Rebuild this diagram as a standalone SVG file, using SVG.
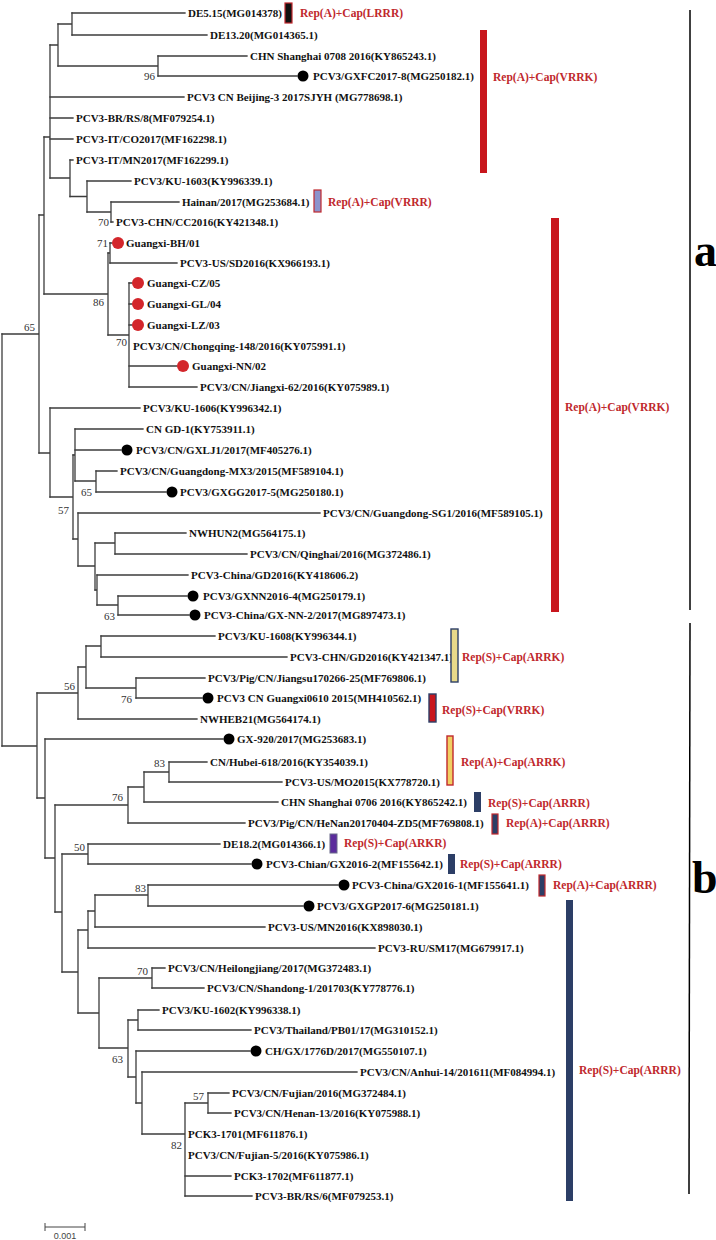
<svg xmlns="http://www.w3.org/2000/svg" width="716" height="1240" viewBox="0 0 716 1240">
<style>
.br{stroke:#3c3c3c;stroke-width:1.3;fill:none;stroke-linecap:square}
.lf{font-family:"Liberation Serif","Times New Roman",serif;font-weight:bold;font-size:11px;fill:#111}
.bs{font-family:"Liberation Serif","Times New Roman",serif;font-size:11px;fill:#333;text-anchor:end}
.rl{font-family:"Liberation Serif","Times New Roman",serif;font-weight:bold;font-size:11.5px;fill:#c0282d}
.bd{fill:#000}
.rd{fill:#d3262b}
.big{font-family:"Liberation Serif","Times New Roman",serif;font-weight:bold;font-size:46px;fill:#000}
.sc{font-family:"Liberation Sans",Arial,sans-serif;font-size:9px;fill:#444;text-anchor:middle}
</style>
<rect width="716" height="1240" fill="#fff"/>
<g id="connectors" class="br">
<path d="M58 24H72M72 13V35"/>
<path d="M58 66H158M158 56V76"/>
<path d="M50 45H58M58 24V66"/>
<path d="M44 137H50M50 45V178"/>
<path d="M50 178H70M70 160V196.5"/>
<path d="M70 196.5H87M87 181V212"/>
<path d="M87 212H111M111 202V222"/>
<path d="M39 215H44M44 137V294"/>
<path d="M108 253H110M110 243V263"/>
<path d="M44 294H108M108 253V335"/>
<path d="M108 335H129M129 283V387"/>
<path d="M2 334H39M39 215V453"/>
<path d="M39 453H50M50 408V497"/>
<path d="M73 455H75M75 429V481"/>
<path d="M75 481H96M96 471V492"/>
<path d="M50 497H73M73 455V539"/>
<path d="M73 539H78M78 513V566"/>
<path d="M78 566H95M95 543V590"/>
<path d="M95 543H115M115 533V554"/>
<path d="M95 590H97M97 575V605"/>
<path d="M97 605H118M118 596V615"/>
<path d="M2 334V746"/>
<path d="M2 746H37M37 693V798"/>
<path d="M37 693H78M78 667V719"/>
<path d="M78 667H86M86 646V688"/>
<path d="M86 646H101M101 636V657"/>
<path d="M86 688H136M136 678V698"/>
<path d="M37 798H45M45 739V858"/>
<path d="M45 858H55M55 805V912"/>
<path d="M55 805H128M128 787V823"/>
<path d="M128 787H144M144 772V802"/>
<path d="M144 772H169M169 762V782"/>
<path d="M55 912H62M62 854V972"/>
<path d="M62 854H88M88 844V864"/>
<path d="M62 972H78M78 930V1013"/>
<path d="M78 930H88M88 911V948"/>
<path d="M88 911H95M95 895V927"/>
<path d="M95 895H148M148 885V906"/>
<path d="M78 1013H99M99 978V1048"/>
<path d="M99 978H152M152 968V988"/>
<path d="M99 1048H128M128 1020V1077"/>
<path d="M128 1020H138M138 1010V1030"/>
<path d="M128 1077H136M136 1051V1103"/>
<path d="M136 1103H142M142 1072V1134"/>
<path d="M142 1134H185M185 1103V1196"/>
<path d="M185 1103H208M208 1093V1113"/>
<path d="M72 13H185M72 35H207M158 56H247M158 76H297M50 97H184M50 118H73M50 139H73M70 160H73M87 181H131M111 202H179M111 222H113"/>
<path d="M110 243H112M110 263H177M129 283H132M129 304H132M129 325H132M129 366H177M129 387H197"/>
<path d="M50 408H140M75 429H143M75 450H121M96 471H117M96 492H166M78 513H320M115 533H186M115 554H247M97 575H188M118 596H187M118 615H189"/>
<path d="M101 636H215M101 657H287M136 678H205M136 698H202M78 719H197M45 739H223"/>
<path d="M169 762H207M169 782H282M144 802H278M128 823H245M88 844H220M88 864H251M148 885H338M148 906H303M95 927H265M88 948H375"/>
<path d="M152 968H165M152 988H204M138 1010H159M138 1030H251M136 1051H250M142 1072H357M208 1093H229M208 1113H231M185 1176H231M185 1196H252"/>
</g>
<g id="bootstrap">
<text class="bs" x="155" y="80">96</text>
<text class="bs" x="109" y="226">70</text>
<text class="bs" x="108" y="247">71</text>
<text class="bs" x="104" y="306">86</text>
<text class="bs" x="35" y="331">65</text>
<text class="bs" x="127" y="346">70</text>
<text class="bs" x="92" y="496">65</text>
<text class="bs" x="69" y="514">57</text>
<text class="bs" x="115" y="620">63</text>
<text class="bs" x="75" y="690">56</text>
<text class="bs" x="132" y="703">76</text>
<text class="bs" x="165" y="767">83</text>
<text class="bs" x="123" y="801">76</text>
<text class="bs" x="85" y="851">50</text>
<text class="bs" x="146" y="892">83</text>
<text class="bs" x="148" y="975">70</text>
<text class="bs" x="123" y="1063">63</text>
<text class="bs" x="204" y="1100">57</text>
<text class="bs" x="182" y="1149">82</text>
</g>
<g id="leaf1"><text class="lf" x="188" y="17">DE5.15(MG014378)</text></g>
<g id="leaf2"><text class="lf" x="210" y="39">DE13.20(MG014365.1)</text></g>
<g id="leaf3"><text class="lf" x="250" y="60">CHN Shanghai 0708 2016(KY865243.1)</text></g>
<g id="leaf4"><circle class="bd" cx="303" cy="76" r="5.5"/><text class="lf" x="313" y="80">PCV3/GXFC2017-8(MG250182.1)</text></g>
<g id="leaf5"><text class="lf" x="187" y="101">PCV3 CN Beijing-3 2017SJYH (MG778698.1)</text></g>
<g id="leaf6"><text class="lf" x="76" y="122">PCV3-BR/RS/8(MF079254.1)</text></g>
<g id="leaf7"><text class="lf" x="76" y="143">PCV3-IT/CO2017(MF162298.1)</text></g>
<g id="leaf8"><text class="lf" x="76" y="164">PCV3-IT/MN2017(MF162299.1)</text></g>
<g id="leaf9"><text class="lf" x="134" y="185">PCV3/KU-1603(KY996339.1)</text></g>
<g id="leaf10"><text class="lf" x="182" y="206">Hainan/2017(MG253684.1)</text></g>
<g id="leaf11"><text class="lf" x="116" y="226">PCV3-CHN/CC2016(KY421348.1)</text></g>
<g id="leaf12"><circle class="rd" cx="118" cy="243" r="6"/><text class="lf" x="126" y="247">Guangxi-BH/01</text></g>
<g id="leaf13"><text class="lf" x="180" y="267">PCV3-US/SD2016(KX966193.1)</text></g>
<g id="leaf14"><circle class="rd" cx="138" cy="283" r="6"/><text class="lf" x="147" y="287">Guangxi-CZ/05</text></g>
<g id="leaf15"><circle class="rd" cx="138" cy="304" r="6"/><text class="lf" x="147" y="308">Guangxi-GL/04</text></g>
<g id="leaf16"><circle class="rd" cx="138" cy="325" r="6"/><text class="lf" x="147" y="329">Guangxi-LZ/03</text></g>
<g id="leaf17"><text class="lf" x="133" y="350">PCV3/CN/Chongqing-148/2016(KY075991.1)</text></g>
<g id="leaf18"><circle class="rd" cx="183" cy="366" r="6"/><text class="lf" x="192" y="370">Guangxi-NN/02</text></g>
<g id="leaf19"><text class="lf" x="200" y="391">PCV3/CN/Jiangxi-62/2016(KY075989.1)</text></g>
<g id="leaf20"><text class="lf" x="143" y="412">PCV3/KU-1606(KY996342.1)</text></g>
<g id="leaf21"><text class="lf" x="146" y="433">CN GD-1(KY753911.1)</text></g>
<g id="leaf22"><circle class="bd" cx="127" cy="450" r="5.5"/><text class="lf" x="136" y="454">PCV3/CN/GXLJ1/2017(MF405276.1)</text></g>
<g id="leaf23"><text class="lf" x="120" y="475">PCV3/CN/Guangdong-MX3/2015(MF589104.1)</text></g>
<g id="leaf24"><circle class="bd" cx="172" cy="492" r="5.5"/><text class="lf" x="180" y="496">PCV3/GXGG2017-5(MG250180.1)</text></g>
<g id="leaf25"><text class="lf" x="323" y="517">PCV3/CN/Guangdong-SG1/2016(MF589105.1)</text></g>
<g id="leaf26"><text class="lf" x="189" y="537">NWHUN2(MG564175.1)</text></g>
<g id="leaf27"><text class="lf" x="250" y="558">PCV3/CN/Qinghai/2016(MG372486.1)</text></g>
<g id="leaf28"><text class="lf" x="191" y="579">PCV3-China/GD2016(KY418606.2)</text></g>
<g id="leaf29"><circle class="bd" cx="193" cy="596" r="5.5"/><text class="lf" x="203" y="600">PCV3/GXNN2016-4(MG250179.1)</text></g>
<g id="leaf30"><circle class="bd" cx="195" cy="615" r="5.5"/><text class="lf" x="204" y="619">PCV3-China/GX-NN-2/2017(MG897473.1)</text></g>
<g id="leaf31"><text class="lf" x="218" y="640">PCV3/KU-1608(KY996344.1)</text></g>
<g id="leaf32"><text class="lf" x="290" y="661">PCV3-CHN/GD2016(KY421347.1)</text></g>
<g id="leaf33"><text class="lf" x="208" y="682">PCV3/Pig/CN/Jiangsu170266-25(MF769806.1)</text></g>
<g id="leaf34"><circle class="bd" cx="208" cy="698" r="5.5"/><text class="lf" x="217" y="702">PCV3 CN Guangxi0610 2015(MH410562.1)</text></g>
<g id="leaf35"><text class="lf" x="200" y="723">NWHEB21(MG564174.1)</text></g>
<g id="leaf36"><circle class="bd" cx="229" cy="739" r="5.5"/><text class="lf" x="237" y="743">GX-920/2017(MG253683.1)</text></g>
<g id="leaf37"><text class="lf" x="210" y="766">CN/Hubei-618/2016(KY354039.1)</text></g>
<g id="leaf38"><text class="lf" x="285" y="786">PCV3-US/MO2015(KX778720.1)</text></g>
<g id="leaf39"><text class="lf" x="281" y="806">CHN Shanghai 0706 2016(KY865242.1)</text></g>
<g id="leaf40"><text class="lf" x="248" y="827">PCV3/Pig/CN/HeNan20170404-ZD5(MF769808.1)</text></g>
<g id="leaf41"><text class="lf" x="223" y="848">DE18.2(MG014366.1)</text></g>
<g id="leaf42"><circle class="bd" cx="257" cy="864" r="5.5"/><text class="lf" x="266" y="868">PCV3-Chian/GX2016-2(MF155642.1)</text></g>
<g id="leaf43"><circle class="bd" cx="344" cy="885" r="5.5"/><text class="lf" x="352" y="889">PCV3-China/GX2016-1(MF155641.1)</text></g>
<g id="leaf44"><circle class="bd" cx="309" cy="906" r="5.5"/><text class="lf" x="317" y="910">PCV3/GXGP2017-6(MG250181.1)</text></g>
<g id="leaf45"><text class="lf" x="268" y="931">PCV3-US/MN2016(KX898030.1)</text></g>
<g id="leaf46"><text class="lf" x="378" y="952">PCV3-RU/SM17(MG679917.1)</text></g>
<g id="leaf47"><text class="lf" x="168" y="972">PCV3/CN/Heilongjiang/2017(MG372483.1)</text></g>
<g id="leaf48"><text class="lf" x="207" y="992">PCV3/CN/Shandong-1/201703(KY778776.1)</text></g>
<g id="leaf49"><text class="lf" x="162" y="1014">PCV3/KU-1602(KY996338.1)</text></g>
<g id="leaf50"><text class="lf" x="254" y="1034">PCV3/Thailand/PB01/17(MG310152.1)</text></g>
<g id="leaf51"><circle class="bd" cx="256" cy="1051" r="5.5"/><text class="lf" x="265" y="1055">CH/GX/1776D/2017(MG550107.1)</text></g>
<g id="leaf52"><text class="lf" x="360" y="1076">PCV3/CN/Anhui-14/201611(MF084994.1)</text></g>
<g id="leaf53"><text class="lf" x="232" y="1097">PCV3/CN/Fujian/2016(MG372484.1)</text></g>
<g id="leaf54"><text class="lf" x="234" y="1117">PCV3/CN/Henan-13/2016(KY075988.1)</text></g>
<g id="leaf55"><text class="lf" x="188" y="1138">PCK3-1701(MF611876.1)</text></g>
<g id="leaf56"><text class="lf" x="188" y="1159">PCV3/CN/Fujian-5/2016(KY075986.1)</text></g>
<g id="leaf57"><text class="lf" x="234" y="1180">PCK3-1702(MF611877.1)</text></g>
<g id="leaf58"><text class="lf" x="255" y="1200">PCV3-BR/RS/6(MF079253.1)</text></g>
<g id="markers">
<rect x="285" y="3" width="7" height="20" fill="#111" stroke="#c0282d" stroke-width="1.2"/>
<text class="rl" x="300" y="17">Rep(A)+Cap(LRRR)</text>
<rect x="480" y="30" width="7" height="143" fill="#c8161d"/>
<text class="rl" x="493" y="81">Rep(A)+Cap(VRRK)</text>
<rect x="314" y="190" width="7" height="22" fill="#8c93cc" stroke="#c0282d" stroke-width="1.2"/>
<text class="rl" x="328" y="206">Rep(A)+Cap(VRRR)</text>
<rect x="551" y="218" width="8" height="394" fill="#c8161d"/>
<text class="rl" x="565" y="411">Rep(A)+Cap(VRRK)</text>
<rect x="451" y="629" width="7" height="53" fill="#e8d98a" stroke="#2c3e66" stroke-width="1.4"/>
<text class="rl" x="462" y="661">Rep(S)+Cap(ARRK)</text>
<rect x="429" y="694" width="7" height="28" fill="#c8161d" stroke="#2c3e66" stroke-width="1.4"/>
<text class="rl" x="442" y="714">Rep(S)+Cap(VRRK)</text>
<rect x="447" y="736" width="6" height="49" fill="#f0cf62" stroke="#c0282d" stroke-width="1.4"/>
<text class="rl" x="461" y="766">Rep(A)+Cap(ARRK)</text>
<rect x="474" y="792" width="7" height="20" fill="#2c3e66"/>
<text class="rl" x="488" y="807">Rep(S)+Cap(ARRR)</text>
<rect x="492" y="814" width="6" height="20" fill="#2c3e66" stroke="#c0282d" stroke-width="1.2"/>
<text class="rl" x="506" y="827">Rep(A)+Cap(ARRR)</text>
<rect x="330" y="834" width="7" height="19" fill="#5b2c9c" stroke="#6a6a8a" stroke-width="1"/>
<text class="rl" x="344" y="847">Rep(S)+Cap(ARKR)</text>
<rect x="448" y="854" width="7" height="20" fill="#2c3e66"/>
<text class="rl" x="460" y="868">Rep(S)+Cap(ARRR)</text>
<rect x="539" y="875" width="6" height="21" fill="#2c3e66" stroke="#c0282d" stroke-width="1.2"/>
<text class="rl" x="553" y="889">Rep(A)+Cap(ARRR)</text>
<rect x="566" y="900" width="7" height="301" fill="#2c3e66"/>
<text class="rl" x="579" y="1074">Rep(S)+Cap(ARRR)</text>
</g>
<g id="clades">
<line x1="690" y1="10" x2="690" y2="610" stroke="#000" stroke-width="1.5"/>
<text class="big" x="694" y="266">a</text>
<line x1="690" y1="623" x2="689" y2="1194" stroke="#000" stroke-width="1.5"/>
<text class="big" x="692" y="893">b</text>
</g>
<g id="scale">
<path d="M45 1227H85M45 1223V1231M85 1223V1231" stroke="#444" stroke-width="1" fill="none"/>
<text class="sc" x="65" y="1239">0.001</text>
</g>
</svg>
